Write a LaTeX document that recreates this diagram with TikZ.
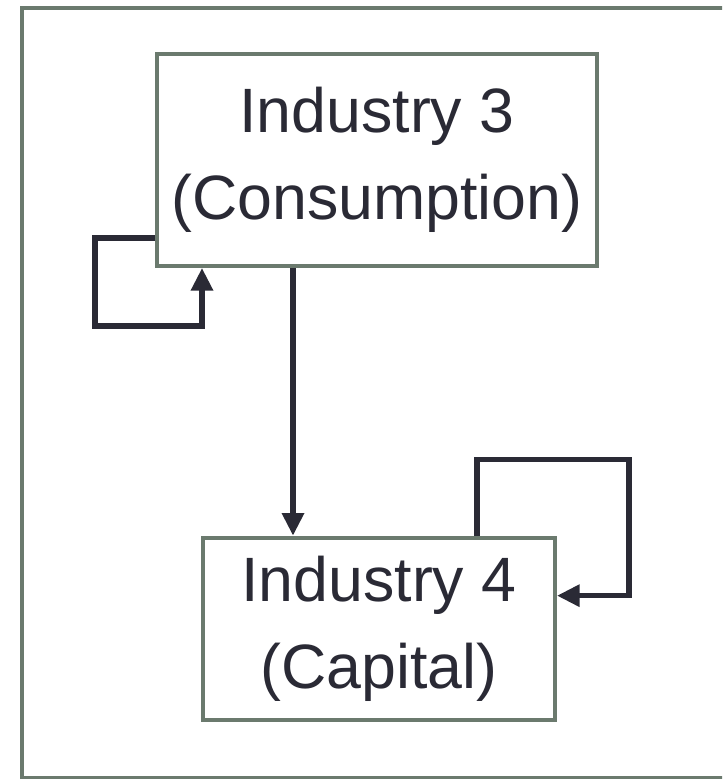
\documentclass[tikz,border=0pt]{standalone}
\usepackage{fontspec}
\setmainfont{Liberation Sans}
\usetikzlibrary{arrows.meta, positioning, calc}
\definecolor{boxgray}{HTML}{6B7A6E}
\definecolor{ink}{HTML}{2A2A35}

\begin{document}
\begin{tikzpicture}[x=0.75pt, y=-0.75pt,
    industry/.style={draw=boxgray, line width=3pt, fill=white, text=ink,
      align=center, inner sep=0pt,
      font=\fontsize{47}{65}\selectfont},
    flow/.style={draw=ink, line width=4pt,
      -{Triangle[length=17pt, width=16pt]}}]
  \useasboundingbox (0,0) rectangle (722,779);
  \clip (0,0) rectangle (722,779);
  % outer frame
  \draw[boxgray, line width=3pt] (22,8) rectangle (740,778);
  % industries
  \node[industry, minimum width=330pt, minimum height=159pt] (ind3) at (377,160)
      {Industry 3\\(Consumption)};
  \node[industry, minimum width=264pt, minimum height=137pt] (ind4) at (379,629)
      {Industry 4\\(Capital)};
  % consumption goods feed the capital industry
  \coordinate (drop) at ($(ind3.south)+(-84,0)$);
  \draw[flow] (drop) -- (drop |- ind4.north);
  % self loops
  \draw[flow] ($(ind3.south west)+(0,-30)$) -- ++(-60,0) -- ++(0,88)
      -| ($(ind3.south west)+(47,0)$);
  \draw[flow] ($(ind4.north east)+(-80,0)$) -- ++(0,-76) -- ++(152,0)
      |- ($(ind4.north east)+(0,60)$);
\end{tikzpicture}
\end{document}
